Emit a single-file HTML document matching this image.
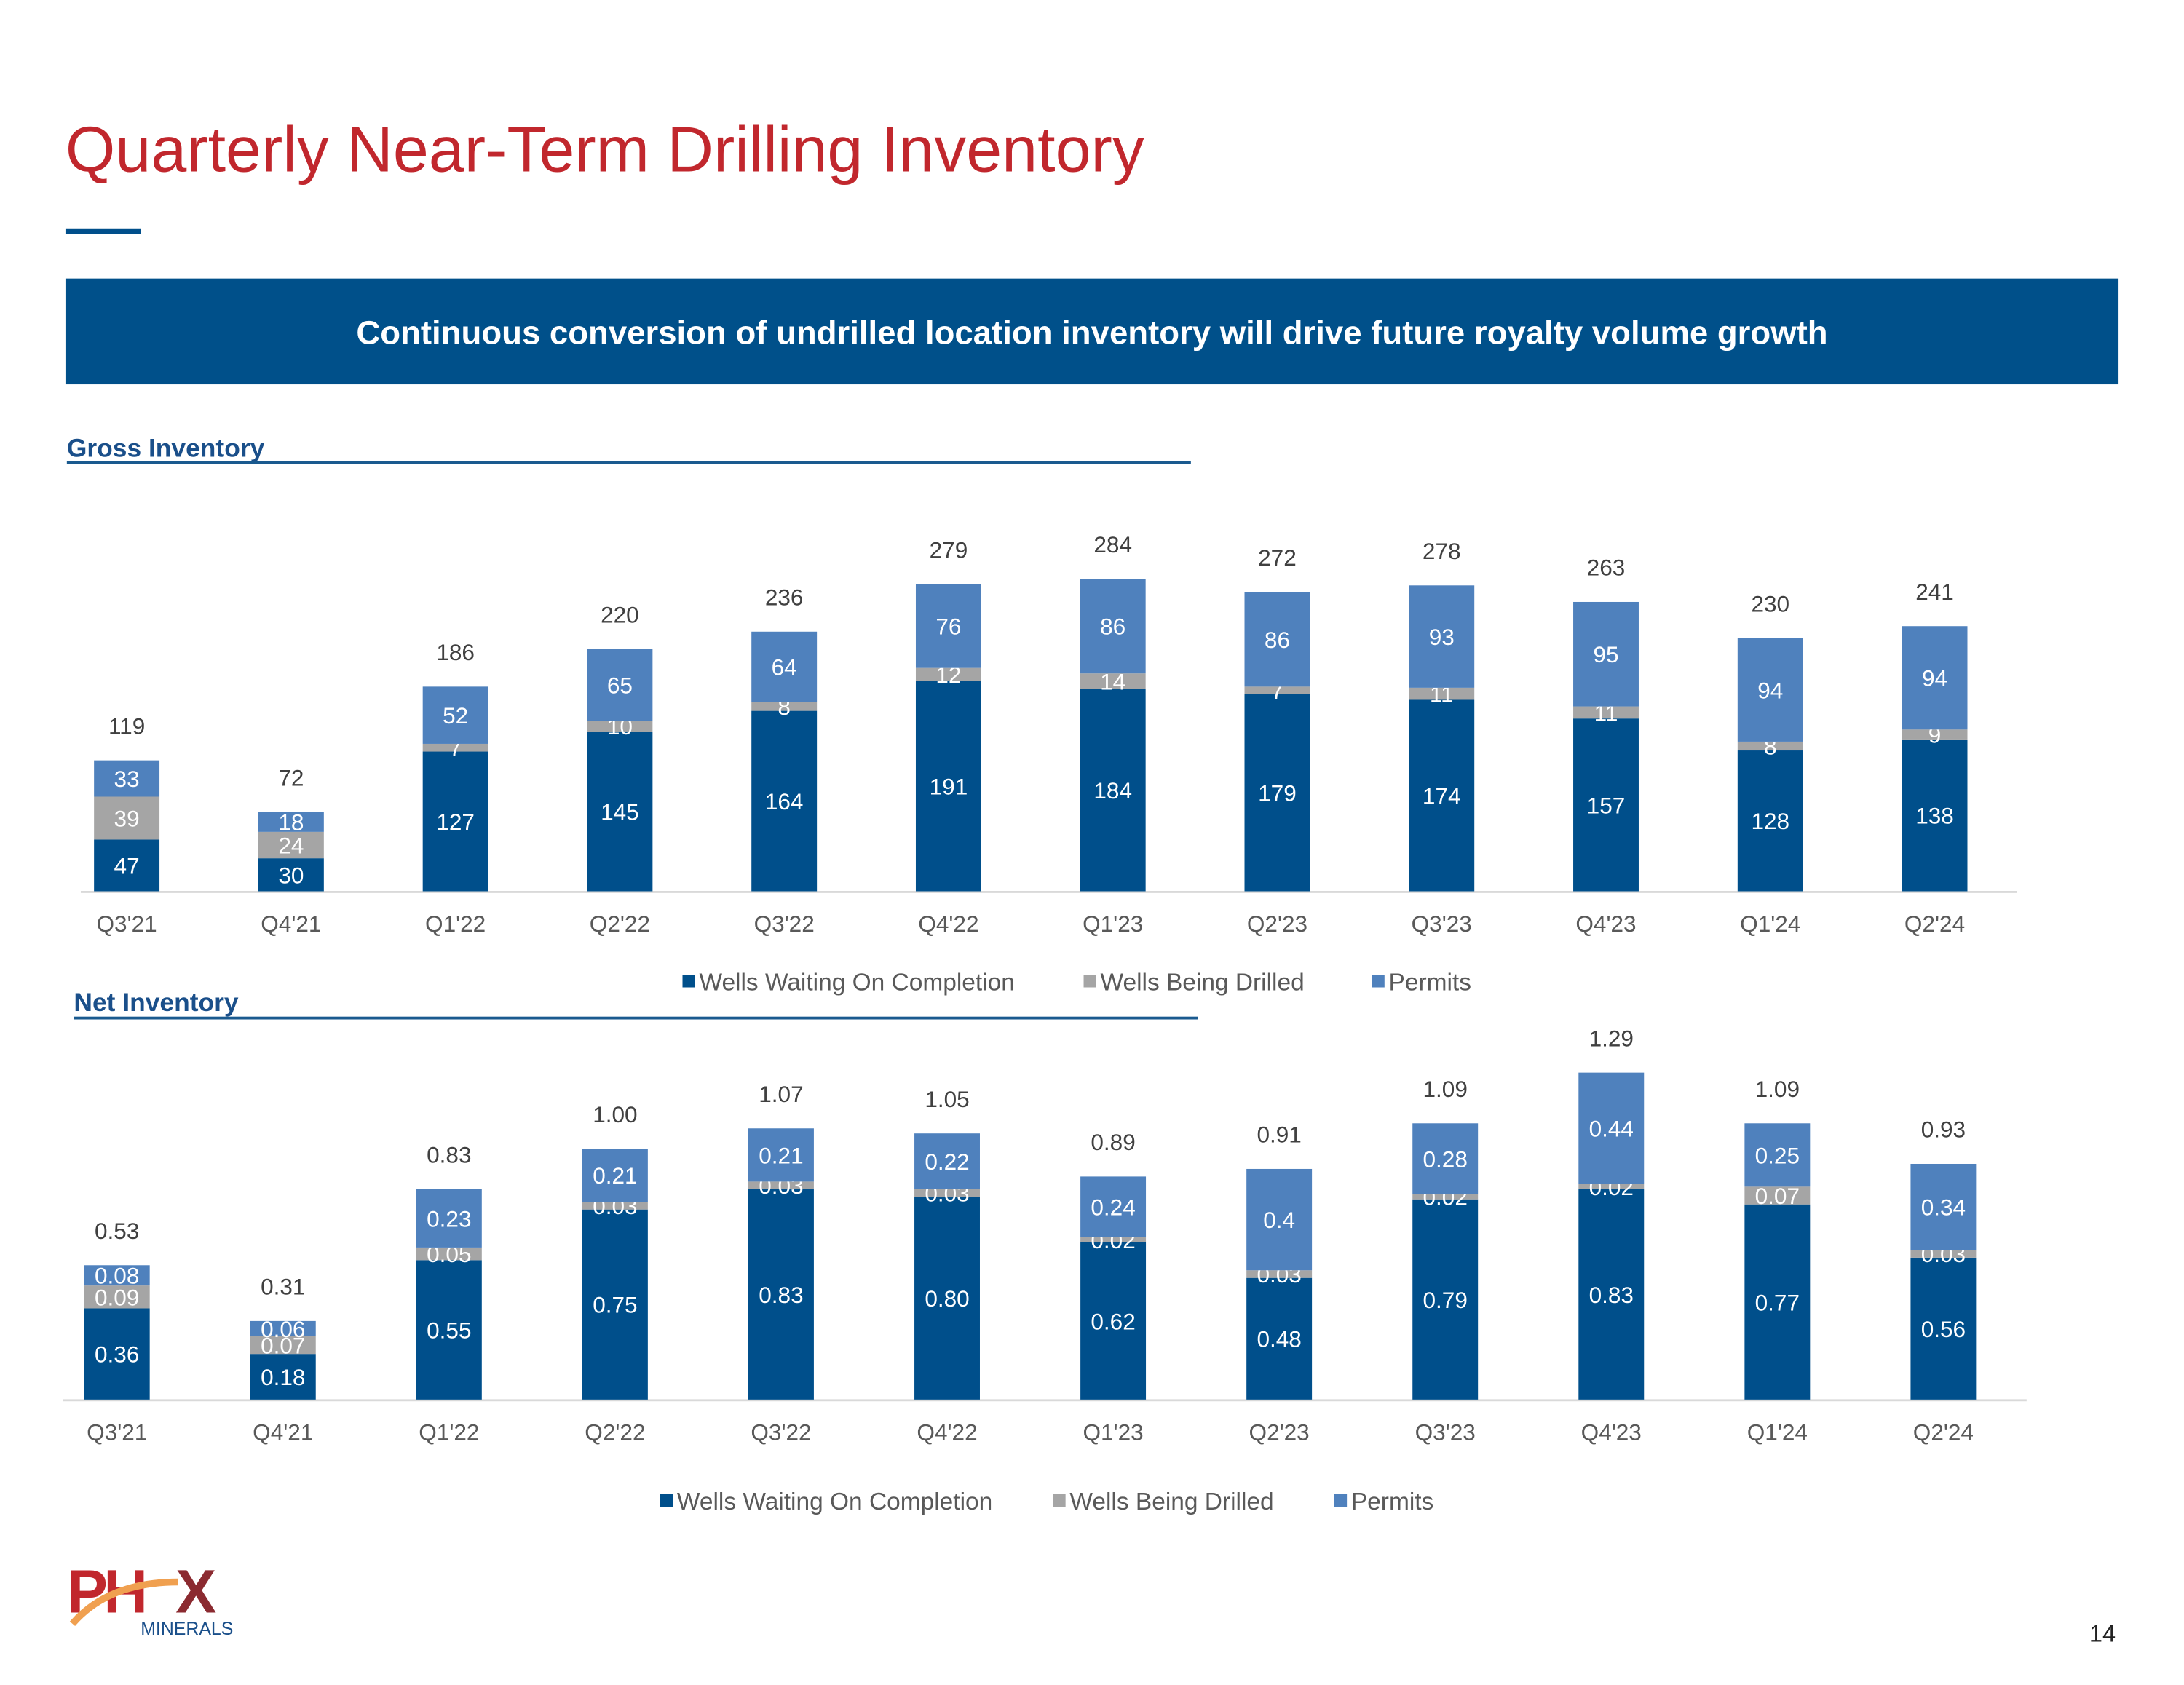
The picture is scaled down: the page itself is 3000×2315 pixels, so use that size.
<!DOCTYPE html>
<html><head><meta charset="utf-8">
<style>
html,body{margin:0;padding:0;background:#fff;}
body{width:3000px;height:2315px;overflow:hidden;position:relative;}
#stage{position:absolute;left:0;top:0;width:1568px;height:1210px;transform:scale(1.91327);transform-origin:0 0;font-family:"Liberation Sans",Arial,sans-serif;}
.abs{position:absolute;}
svg text{font-family:"Liberation Sans",Arial,sans-serif;}
</style></head>
<body>
<div id="stage">
  <div class="abs" style="left:47px;top:80px;font-size:46px;color:#c1272d;white-space:nowrap;">Quarterly Near-Term Drilling Inventory</div>
  <div class="abs" style="left:47px;top:164px;width:54px;height:4px;background:#004f8b;"></div>
  <div class="abs" style="left:47px;top:200px;width:1474px;height:76px;background:#00508a;color:#fff;font-weight:bold;font-size:23.8px;text-align:center;line-height:80px;white-space:nowrap;">Continuous conversion of undrilled location inventory will drive future royalty volume growth</div>
  <div class="abs" style="left:48px;top:311px;font-size:18.5px;font-weight:bold;color:#1a4f8a;">Gross Inventory</div>
  <div class="abs" style="left:48px;top:331px;width:807px;height:1.5px;background:#1a5a8f;"></div>
  <div class="abs" style="left:53px;top:709px;font-size:18.5px;font-weight:bold;color:#1a4f8a;">Net Inventory</div>
  <div class="abs" style="left:53px;top:730px;width:807px;height:1.5px;background:#1a5a8f;"></div>

  <svg id="chart" class="abs" style="left:0;top:0" width="1568" height="1210"></svg>

  <div class="abs" style="left:48px;top:1114px;width:135px;height:66px;">
    <svg width="135" height="66">
      <text x="0" y="44" font-size="44" font-weight="bold" fill="#c1272d" letter-spacing="-3">PH</text>
      <text x="78" y="44" font-size="44" font-weight="bold" fill="#8b2a30">X</text>
      <path d="M4 52 Q30 22 80 22" stroke="#f0a050" stroke-width="5" fill="none"/>
      <text x="53" y="60" font-size="13" fill="#1a4f8a">MINERALS</text>
    </svg>
  </div>
  <div class="abs" style="left:1500px;top:1164px;font-size:17px;color:#222;">14</div>
</div>
<script>
const categories = ["Q3'21","Q4'21","Q1'22","Q2'22","Q3'22","Q4'22","Q1'23","Q2'23","Q3'23","Q4'23","Q1'24","Q2'24"];
const grossWaiting = [47,30,127,145,164,191,184,179,174,157,128,138];
const grossDrilling = [39,24,7,10,8,12,14,7,11,11,8,9];
const grossPermits = [33,18,52,65,64,76,86,86,93,95,94,94];
const grossTotals = ["119","72","186","220","236","279","284","272","278","263","230","241"];
const netWaiting = [0.36,0.18,0.55,0.75,0.83,0.80,0.62,0.48,0.79,0.83,0.77,0.56];
const netDrilling = [0.09,0.07,0.05,0.03,0.03,0.03,0.02,0.03,0.02,0.02,0.07,0.03];
const netPermits = [0.08,0.06,0.23,0.21,0.21,0.22,0.24,0.4,0.28,0.44,0.25,0.34];
const netWaitingLabels = ["0.36","0.18","0.55","0.75","0.83","0.80","0.62","0.48","0.79","0.83","0.77","0.56"];
const netDrillingLabels = ["0.09","0.07","0.05","0.03","0.03","0.03","0.02","0.03","0.02","0.02","0.07","0.03"];
const netPermitLabels = ["0.08","0.06","0.23","0.21","0.21","0.22","0.24","0.4","0.28","0.44","0.25","0.34"];
const netTotals = ["0.53","0.31","0.83","1.00","1.07","1.05","0.89","0.91","1.09","1.29","1.09","0.93"];
const seriesNames = ["Wells Waiting On Completion","Wells Being Drilled","Permits"];
const colors = ["#004f8b","#a5a5a5","#4f81bd"];

const NS="http://www.w3.org/2000/svg";
const svg=document.getElementById('chart');
function mk(tag,attrs,parent){const e=document.createElementNS(NS,tag);for(const k in attrs)e.setAttribute(k,attrs[k]);(parent||svg).appendChild(e);return e;}

function drawChart(cfg){
  const g=mk('g',{});
  
  
  const xPos=i=>cfg.x0+i*cfg.step;
  const yPos=v=>cfg.base-v*cfg.scale;
  const ax=mk('line',{x1:cfg.axL,x2:cfg.axR,y1:cfg.base+0.5,y2:cfg.base+0.5,stroke:'#d9d9d9','stroke-width':1.5},g);
  
  
  const series=[cfg.a,cfg.b,cfg.c];
  const labels=[cfg.la,cfg.lb,cfg.lc];
  const segNames=['waiting','drilling','permits'];
  categories.forEach((cat,i)=>{
    let cum=0;
    const cx=xPos(i);
    for(let s=0;s<3;s++){
      const v=series[s][i];
      const y1=yPos(cum), y2=yPos(cum+v);
      const r=mk('rect',{x:cx-cfg.bw/2,y:y2,width:cfg.bw,height:y1-y2,fill:colors[s]},g);
      
      
      const t=mk('text',{x:cx,y:(y1+y2)/2+6,'text-anchor':'middle','font-size':16.5,fill:'#fff'},g);
      t.textContent=labels[s][i];
      
      
      cum+=v;
    }
    const tt=mk('text',{x:cx,y:yPos(cum)-19,'text-anchor':'middle','font-size':16.5,fill:'#404040'},g);
    tt.textContent=cfg.totals[i];
    
    
    const cl=mk('text',{x:cx,y:cfg.base+29,'text-anchor':'middle','font-size':16.5,fill:'#595959'},g);
    cl.textContent=cat;
    
    
  });
  cfg.legX.forEach((lx,s)=>{
    const sq=mk('rect',{x:lx,y:cfg.legY-5,width:9,height:9,fill:colors[s]},g);
    
    
    const lt=mk('text',{x:lx+12,y:cfg.legY+6,'font-size':17.5,fill:'#595959'},g);
    lt.textContent=seriesNames[s];
    
    
  });
}
drawChart({name:'gross-inventory-chart',x0:91,step:118,bw:47,base:640,scale:0.79,axL:58,axR:1448,
  a:grossWaiting,b:grossDrilling,c:grossPermits,la:grossWaiting,lb:grossDrilling,lc:grossPermits,totals:grossTotals,
  legX:[490,778,985],legY:705});
drawChart({name:'net-inventory-chart',x0:84,step:119.2,bw:47,base:1005,scale:182,axL:45,axR:1455,
  a:netWaiting,b:netDrilling,c:netPermits,la:netWaitingLabels,lb:netDrillingLabels,lc:netPermitLabels,totals:netTotals,
  legX:[474,756,958],legY:1078});
</script>
</body></html>
